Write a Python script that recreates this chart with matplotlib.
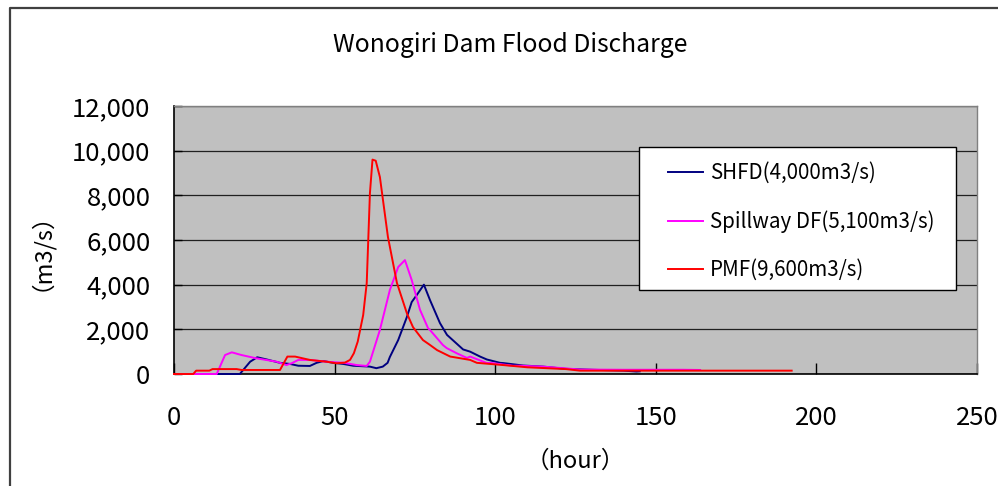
import matplotlib
matplotlib.use("Agg")
import matplotlib.pyplot as plt
from matplotlib.ticker import FuncFormatter
from matplotlib.lines import Line2D
from matplotlib.patches import Rectangle

plt.rcParams['font.family'] = ['Noto Sans CJK JP', 'DejaVu Sans']

# Flood hydrographs (hour, m3/s)
shfd_hours = [0, 20.5, 23.7, 25.9, 28.9, 33, 36.1, 38.7, 42.3, 44.4, 46.5, 49.6, 52.7,
              55.8, 61, 63, 65, 66.5, 67.2, 69.8, 72.5, 74, 75.6, 77.8, 79.7, 82.8,
              85, 90, 92.2, 95.3, 97.4, 101.5, 102.5, 108.7, 115, 122, 130, 140, 144, 145]
shfd_flow = [0, 0, 550, 750, 650, 500, 450, 370, 360, 500, 580, 500, 450,
             370, 330, 260, 330, 500, 760, 1520, 2550, 3220, 3540, 4000, 3310, 2280,
             1750, 1100, 1000, 780, 650, 500, 490, 380, 330, 230, 190, 150, 110, 120]

spill_hours = [0, 13.3, 15.9, 18, 21, 25.7, 32, 35, 36.6, 38.7, 42.3, 47.5, 53,
               56.9, 60, 61, 64.1, 67.2, 69.8, 71.9, 74, 76.6, 79.1, 79.7, 83.7,
               84.9, 88, 91.2, 92.2, 97.4, 98.4, 105.5, 107.7, 115, 126.4, 140,
               158.5, 163.8]
spill_flow = [0, 0, 850, 970, 850, 700, 550, 400, 480, 630, 630, 550, 500,
              400, 360, 550, 1970, 3760, 4790, 5100, 4210, 2870, 2050, 1970, 1300,
              1160, 930, 720, 780, 490, 500, 370, 370, 330, 200, 190,
              190, 180]

pmf_hours = [0, 6, 6.9, 11, 12, 19.5, 21, 33, 35.3, 37.7, 42.3, 47.5, 50.6, 53.2,
             54.8, 56, 57.2, 58.9, 60, 61, 61.8, 62.8, 64.1, 66.6, 69.4, 72.5,
             74.4, 77.5, 79.7, 81.9, 86, 86.9, 92.2, 94.3, 102.5, 110, 122,
             126.4, 150, 170, 192.3]
pmf_flow = [0, 0, 150, 150, 220, 220, 180, 180, 780, 780, 630, 550, 480, 510,
            630, 930, 1450, 2640, 4070, 8100, 9600, 9550, 8820, 6140, 4080, 2720,
            2100, 1520, 1300, 1070, 780, 760, 630, 500, 400, 300, 220,
            150, 150, 150, 150]

series_labels = ["SHFD(4,000m3/s)", "Spillway DF(5,100m3/s)", "PMF(9,600m3/s)"]
series_colors = ["#000080", "#FF00FF", "#FF0000"]

x_ticks = [0, 50, 100, 150, 200, 250]
y_ticks = [0, 2000, 4000, 6000, 8000, 10000, 12000]

W, H = 998, 486
fig = plt.figure(figsize=(W / 100, H / 100), dpi=100)
fig.patch.set_facecolor("white")

# outer chart frame (left and top edges)
fig.add_artist(Line2D([10 / W, 10 / W, 1.0], [0.0, 1 - 8 / H, 1 - 8 / H],
                      transform=fig.transFigure, color="#404040", lw=1.6))

ax = fig.add_axes([174 / W, 1 - 374 / H, (977 - 174) / W, (374 - 106) / H])
ax.set_facecolor("#C0C0C0")

for hrs, q, lab, col in zip([shfd_hours, spill_hours, pmf_hours],
                            [shfd_flow, spill_flow, pmf_flow],
                            series_labels, series_colors):
    ax.plot(hrs, q, color=col, lw=1.4, label=lab, solid_joinstyle="round",
            clip_on=False, zorder=3)

ax.set_xlim(0, 250)
ax.set_ylim(0, 12000)
ax.set_xticks(x_ticks)
ax.set_yticks(y_ticks)
ax.yaxis.set_major_formatter(FuncFormatter(lambda v, p: f"{int(v):,}"))
ax.grid(axis="y", color="#202020", lw=0.9)
ax.set_axisbelow(True)

for s in ["left", "bottom"]:
    ax.spines[s].set_color("black")
    ax.spines[s].set_linewidth(1.2)
for s in ["top", "right"]:
    ax.spines[s].set_color("#808080")
    ax.spines[s].set_linewidth(1.0)

ax.tick_params(axis="x", direction="in", length=8, width=1, pad=22,
               labelsize=18.5, colors="black")
ax.tick_params(axis="y", direction="in", length=6, width=1, pad=17,
               labelsize=18.5, colors="black")

ax.set_xlabel("（hour）", fontsize=17, labelpad=14)
ax.set_ylabel("（m3/s）", fontsize=17, labelpad=22)

fig.text(510 / W, 1 - 45 / H, "Wonogiri Dam Flood Discharge", fontsize=17.8,
         ha="center", va="center")

# legend box
ax.add_patch(Rectangle(((639 - 174) / 803, (374 - 290) / 268), (956 - 639) / 803,
                       (290 - 147) / 268, transform=ax.transAxes, facecolor="white",
                       edgecolor="black", lw=1.0, zorder=4.5))
leg = ax.legend(loc="upper left", bbox_to_anchor=((668 - 174) / 803, (374 - 162) / 268),
                borderaxespad=0, borderpad=0, fontsize=14.8, frameon=False,
                handlelength=1.7, handletextpad=0.34, labelspacing=1.28)
leg.set_zorder(5)

fig.savefig("out.png", dpi=100)
